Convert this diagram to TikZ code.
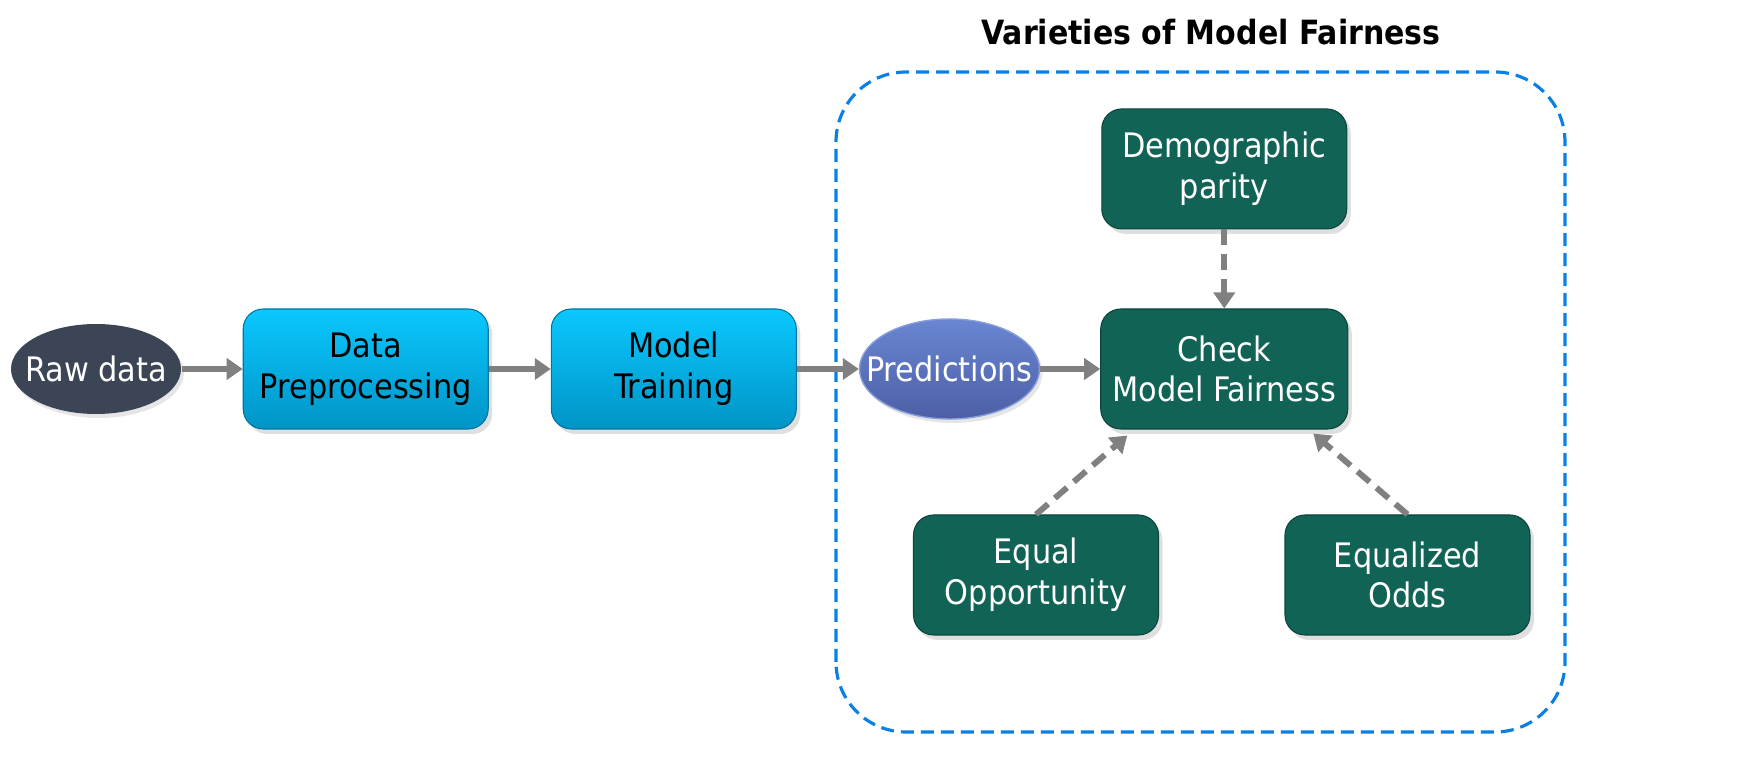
\documentclass[tikz,border=0pt]{standalone}
\usepackage{fontspec}
\setmainfont{DejaVu Sans Condensed}
\usepackage{tikz}
\usetikzlibrary{arrows.meta, positioning, shapes.geometric, shadows}

\definecolor{rawgray}{HTML}{3C4555}
\definecolor{cyantop}{HTML}{0AC8FF}
\definecolor{cyanbot}{HTML}{0094C6}
\definecolor{predtop}{HTML}{6A86D2}
\definecolor{predbot}{HTML}{4C5FA6}
\definecolor{fairgreen}{HTML}{116355}
\definecolor{framblue}{HTML}{0A7FE8}
\definecolor{flowgray}{HTML}{808080}

\begin{document}
\begin{tikzpicture}[
            font=\fontsize{9.6}{11.6}\selectfont,
            stage/.style={rectangle, rounded corners=2mm, draw=cyanbot!80!black, line width=0.3pt,
                top color=cyantop, bottom color=cyanbot, minimum width=2.45cm, minimum height=1.2cm,
                align=center, text=black, drop shadow={opacity=0.25, shadow xshift=0.4mm, shadow yshift=-0.5mm}},
            fairbox/.style={rectangle, rounded corners=2mm, draw=fairgreen!70!black, line width=0.3pt,
                fill=fairgreen, minimum width=2.45cm, minimum height=1.2cm,
                align=center, text=white, drop shadow={opacity=0.25, shadow xshift=0.4mm, shadow yshift=-0.5mm}},
            flow/.style={-{Triangle[length=1.6mm, width=2.1mm]}, line width=1.7pt, draw=flowgray},
            dashflow/.style={flow, dash pattern=on 1.6mm off 0.9mm}]

            % Fixed page size
            \useasboundingbox (0,0) rectangle (17.57,7.59);

            % Dashed frame with title
            \draw[framblue, line width=0.9pt, dash pattern=on 1.3mm off 0.7mm, rounded corners=7mm]
                (8.36,0.27) rectangle (15.65,6.87);
            \node[font=\fontsize{9.5}{11}\selectfont\bfseries] (title) at (12.11,7.27) {Varieties of Model Fairness};

            % Pipeline
            \node[ellipse, fill=rawgray, text=white, minimum width=1.7cm, minimum height=0.9cm, inner sep=-2mm,
                drop shadow={opacity=0.2, shadow xshift=0.3mm, shadow yshift=-0.4mm}] (raw) at (0.96,3.90) {Raw data};
            \node[stage, right=0.61cm of raw] (prep) {Data\\Preprocessing};
            \node[stage, right=0.62cm of prep] (train) {Model\\Training};
            \node[ellipse, draw=predtop!80!white, line width=0.4pt, top color=predtop, bottom color=predbot, text=white,
                minimum width=1.8cm, minimum height=1.0cm, inner sep=-2mm,
                drop shadow={opacity=0.2, shadow xshift=0.3mm, shadow yshift=-0.4mm},
                right=0.62cm of train] (pred) {Predictions};
            \node[fairbox, right=0.6cm of pred] (check) {Check\\Model Fairness};

            % Fairness criteria
            \node[fairbox, above=0.79cm of check] (demo) {Demographic\\parity};
            \node[fairbox] (eqopp) at (10.36,1.84) {Equal\\Opportunity};
            \node[fairbox] (eqodds) at (14.075,1.84) {Equalized\\Odds};

            % Connectors
            \draw[flow] (raw) -- (prep);
            \draw[flow] (prep) -- (train);
            \draw[flow] (train) -- (pred);
            \draw[flow] (pred) -- (check);
            \draw[dashflow] (demo) -- (check);
            \draw[dashflow] (eqopp.north) -- ([xshift=2.7mm, yshift=-0.6mm]check.south west);
            \draw[dashflow] (eqodds.north) -- ([xshift=-3.5mm, yshift=-0.4mm]check.south east);
        \end{tikzpicture}
\end{document}
